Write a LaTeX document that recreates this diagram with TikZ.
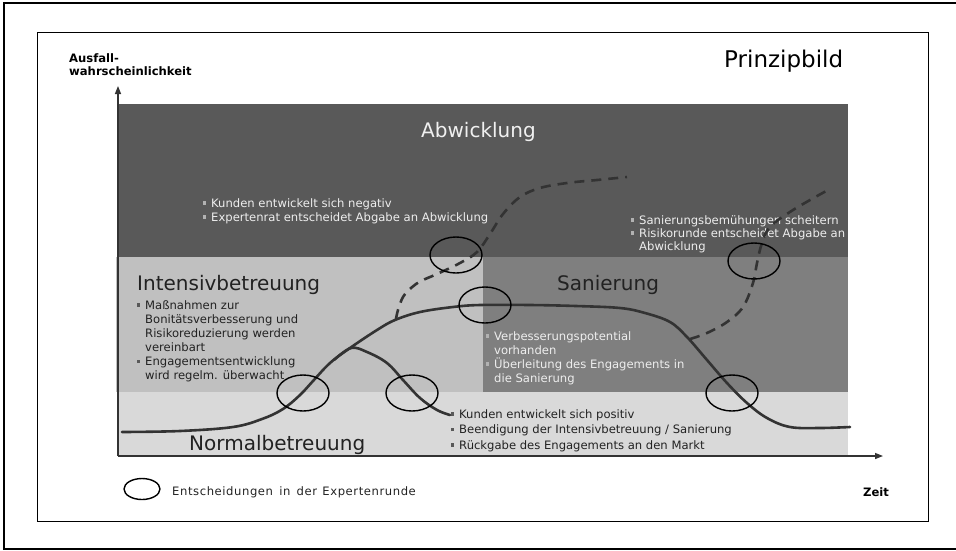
\documentclass[tikz,border=0pt]{standalone}
\usepackage{fontspec}
\setmainfont{DejaVu Sans}
\usetikzlibrary{arrows.meta,shapes.geometric}

\definecolor{bandDark}{HTML}{595959}
\definecolor{bandLight}{HTML}{C0C0C0}
\definecolor{bandMid}{HTML}{7F7F7F}
\definecolor{bandPale}{HTML}{D9D9D9}
\definecolor{curveCol}{HTML}{333333}
\definecolor{lightText}{HTML}{EEEEEE}
\definecolor{darkText}{HTML}{222222}
\colorlet{bulletCol}{gray}

% small square bullet with its gap, and the matching indent
\newcommand\bul{\makebox[8pt][l]{\raisebox{0.2em}{\color{bulletCol}\rule{3.2pt}{3.2pt}}}}
\newcommand\ind{\makebox[8pt][l]{}}

\begin{document}
\begin{tikzpicture}[x=1pt,y=-1pt,
  title/.style={inner sep=0pt, anchor=base west, font=\fontsize{20}{24}\selectfont},
  btxt/.style={inner sep=0pt, anchor=base west, font=\fontsize{11.6}{14}\selectfont},
  onlight/.style={text=darkText, execute at begin node={\colorlet{bulletCol}{black!65}}},
  ondark/.style={text=lightText, execute at begin node={\colorlet{bulletCol}{black!30}}},
  axlabel/.style={inner sep=0pt, anchor=base west, font=\fontsize{11.6}{14}\selectfont\bfseries},
  curve/.style={draw=curveCol, line width=2.6pt, line cap=round, line join=round},
  dashcurve/.style={curve, line cap=butt, dash pattern=on 10pt off 7pt},
  decision/.style={ellipse, draw=black, line width=1.4pt, inner sep=0pt,
    minimum width=52pt, minimum height=36pt},
  axis/.style={draw=curveCol, line width=1.4pt, -{Triangle[length=8pt,width=6pt]}}]

\useasboundingbox (0,0) rectangle (956,550);
\clip (0,0) rectangle (956,550);

% frames
\draw[line width=2.4pt] (4,3) rectangle (970,549);
\draw[line width=1pt] (37,32) rectangle (928,521);

% care zones
\fill[bandDark]  (118,104) rectangle (848,257);
\fill[bandLight] (116,257) rectangle (483,392);
\fill[bandMid]   (483,257) rectangle (848,392);
\fill[bandPale]  (118,392) rectangle (848,456);

% axes
\coordinate (O) at (118,456);
\coordinate (ytop) at (118,86);
\coordinate (xend) at (883,456);
\draw[axis] (O) -- (ytop);
\draw[axis] (O) -- (xend);

\node[axlabel] (ylab1) at (69,62) {Ausfall-};
\node[axlabel] (ylab2) at (69,75) {wahrscheinlichkeit};
\node[axlabel] (xlab) at (863,496) {Zeit};

\node[inner sep=0pt, anchor=base west, font=\fontsize{23}{27}\selectfont] (pb) at (724,67) {Prinzipbild};

% zone titles
\node[title, text=white!94!black] (tAbw) at (421,137) {Abwicklung};
\node[title, text=darkText] (tInt) at (137,290) {Intensivbetreuung};
\node[title, text=darkText] (tSan) at (557,290) {Sanierung};
\node[title, text=darkText] (tNor) at (189,450) {Normalbetreuung};

% bullet texts
\foreach \t [count=\i from 0] in {{\bul Kunden entwickelt sich negativ},{\bul Expertenrat entscheidet Abgabe an Abwicklung}}
  \node[btxt, ondark] (abw\i) at (203,{207+14*\i}) {\t};

\foreach \t [count=\i from 0] in {{\bul Sanierungsbemühungen scheitern},{\bul Risikorunde entscheidet Abgabe an},{\ind Abwicklung}}
  \node[btxt, ondark] (fail\i) at (631,{224+13*\i}) {\t};

\foreach \t [count=\i from 0] in {{\bul Maßnahmen zur},{\ind Bonitätsverbesserung und},{\ind Risikoreduzierung werden},{\ind vereinbart},{\bul Engagementsentwicklung},{\ind wird regelm. überwacht}}
  \node[btxt, onlight] (int\i) at (137,{309+14.1*\i}) {\t};

\foreach \t [count=\i from 0] in {{\bul Verbesserungspotential},{\ind vorhanden},{\bul Überleitung des Engagements in},{\ind die Sanierung}}
  \node[btxt, ondark] (san\i) at (486,{340+14*\i}) {\t};

\foreach \t [count=\i from 0] in {{\bul Kunden entwickelt sich positiv},{\bul Beendigung der Intensivbetreuung / Sanierung},{\bul Rückgabe des Engagements an den Markt}}
  \node[btxt, onlight] (nor\i) at (451,{418+15.5*\i}) {\t};

% risk paths
\draw[curve] plot[smooth, tension=0.6] coordinates {
  (122,432) (180,431) (233,427) (262,419) (283,409) (300,395) (313,381)
  (330,363) (350,348) (377,330) (395,320) (420,312) (453,307) (480,305)
  (530,305) (576,306) (620,308) (645,313) (670,322) (687,337) (707,360)
  (727,383) (747,403) (767,418) (790,427) (820,428) (850,427)};
\draw[curve] plot[smooth, tension=0.6] coordinates {
  (334,360) (351,348) (367,352) (387,363) (403,380) (420,398) (437,410) (450,415)};
\draw[dashcurve] plot[smooth, tension=0.6] coordinates {
  (396,319) (398,310) (403,297) (411,288) (421,281) (437,274) (460,263)
  (477,252) (490,234) (503,214) (520,197) (540,188) (567,183) (597,180) (627,177)};
\draw[dashcurve] plot[smooth, tension=0.6] coordinates {
  (690,339) (707,333) (727,322) (743,307) (753,283) (757,263) (762,243)
  (770,227) (793,210) (828,190)};

% decision points
\node[decision] (d1) at (303,393) {};
\node[decision] (d2) at (412,393) {};
\node[decision] (d3) at (456,255) {};
\node[decision] (d4) at (485,305) {};
\node[decision] (d5) at (754,261) {};
\node[decision] (d6) at (732,393) {};

% legend
\node[ellipse, draw=black, line width=1.4pt, inner sep=0pt, minimum width=36pt, minimum height=21pt] (leg) at (142,489) {};
\node[inner sep=0pt, anchor=base west, font=\fontsize{11.6}{14}\selectfont\addfontfeatures{LetterSpace=5}, text=darkText] (legtxt) at (172,495) {Entscheidungen\hspace{2pt} in\hspace{2pt} der\hspace{1pt} Expertenrunde};

\end{tikzpicture}
\end{document}
